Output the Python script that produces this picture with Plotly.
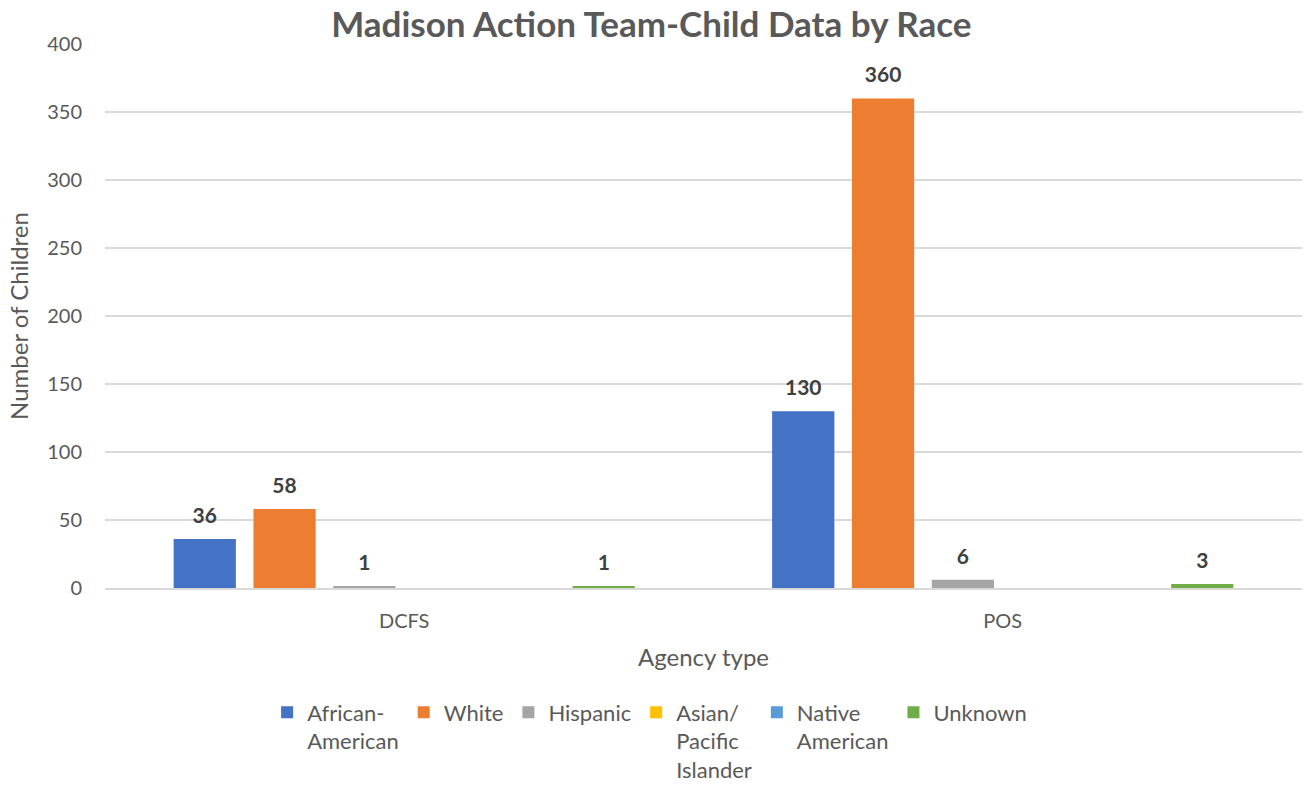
import plotly.graph_objects as go

categories = ["DCFS", "POS"]
series_names = ["African-<br>American", "White", "Hispanic", "Asian/<br>Pacific<br>Islander", "Native<br>American", "Unknown"]
african_american = [36, 130]
white = [58, 360]
hispanic = [1, 6]
asian_pacific = [0, 0]
native_american = [0, 0]
unknown = [1, 3]
y_ticks = [0, 50, 100, 150, 200, 250, 300, 350, 400]

series_values = [african_american, white, hispanic, asian_pacific, native_american, unknown]
colors = ["#4472C4", "#ED7D31", "#A5A5A5", "#FFC000", "#5B9BD5", "#70AD47"]

FONT = "Lato, 'Open Sans', sans-serif"

fig = go.Figure()
for i, (name, vals, col) in enumerate(zip(series_names, series_values, colors)):
    fig.add_trace(go.Bar(
        x=categories, y=vals, name=name,
        marker=dict(color=col, line=dict(width=0)),
        offsetgroup=str(i),
    ))
for i, vals in enumerate(series_values):
    fig.add_trace(go.Scatter(
        x=categories, y=vals, mode="markers+text",
        marker=dict(size=16, opacity=0),
        text=[str(v) if v else "" for v in vals],
        textposition="top center",
        offsetgroup=str(i),
        showlegend=False, hoverinfo="skip", cliponaxis=False,
        textfont=dict(family=FONT, size=21, color="#404040", weight="bold"),
    ))

fig.update_layout(
    width=1308, height=786,
    paper_bgcolor="white", plot_bgcolor="white",
    margin=dict(l=105, r=6, t=44, b=198, autoexpand=False),
    barmode="group", bargap=0.2, bargroupgap=0.22,
    scattermode="group", scattergap=0.2,
    font=dict(family=FONT, color="#595959", size=20),
    title=dict(text="<b>Madison Action Team-Child Data by Race</b>",
               x=0.498, xanchor="center", y=0.968, yanchor="middle",
               font=dict(family=FONT, size=35, color="#595959")),
    showlegend=True,
    legend=dict(orientation="h", x=0.455, xanchor="center", y=-0.19, yanchor="top",
                valign="top", font=dict(family=FONT, size=22, color="#595959"),
                traceorder="normal", itemwidth=30),
)
fig.update_xaxes(
    title=dict(text="Agency type", font=dict(size=24, color="#595959"), standoff=18),
    showline=True, linecolor="#D9D9D9", linewidth=1.5, automargin=False,
    tickfont=dict(size=20, color="#595959"), ticks="", ticklabelstandoff=14,
)
fig.update_yaxes(
    title=dict(text="Number of Children", font=dict(size=24, color="#595959"), standoff=11),
    range=[0, 400], tickvals=y_ticks, showgrid=True, gridcolor="#D9D9D9", gridwidth=1.5,
    zeroline=False, showline=False, automargin=False,
    tickfont=dict(size=20, color="#595959"), ticklabelstandoff=22,
)

fig.write_html("out.html", config={"displayModeBar": False},
               post_script="document.body.style.margin='0';")
